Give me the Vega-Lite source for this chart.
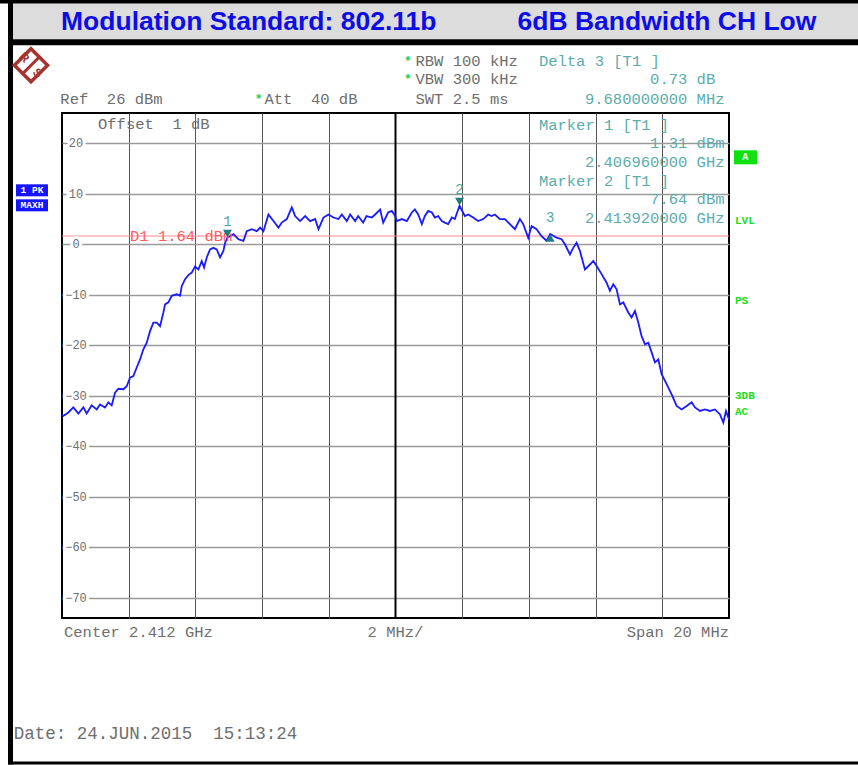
{
  "$schema": "https://vega.github.io/schema/vega-lite/v6.json",
  "width": 667,
  "height": 505,
  "autosize": {"type": "none"},
  "padding": {"left": 62, "top": 113, "right": 129, "bottom": 147},
  "background": "#ffffff",
  "config": {"view": {"stroke": "#000000", "strokeWidth": 2}},
  "datasets": {
    "trace": [
      {"f": 2402.0, "db": -33.8}, {"f": 2402.04, "db": -34.0}, {"f": 2402.19, "db": -33.3}, {"f": 2402.34, "db": -32.3},
      {"f": 2402.49, "db": -33.5}, {"f": 2402.64, "db": -32.3}, {"f": 2402.74, "db": -33.5}, {"f": 2402.89, "db": -31.9},
      {"f": 2403.04, "db": -32.7}, {"f": 2403.14, "db": -31.7}, {"f": 2403.29, "db": -32.3}, {"f": 2403.39, "db": -31.3},
      {"f": 2403.49, "db": -31.9}, {"f": 2403.59, "db": -29.4}, {"f": 2403.69, "db": -28.6}, {"f": 2403.84, "db": -28.7},
      {"f": 2403.94, "db": -28.1}, {"f": 2404.04, "db": -26.4}, {"f": 2404.14, "db": -26.1}, {"f": 2404.24, "db": -24.4},
      {"f": 2404.34, "db": -22.8}, {"f": 2404.44, "db": -20.8}, {"f": 2404.54, "db": -19.5}, {"f": 2404.64, "db": -17.2},
      {"f": 2404.74, "db": -15.5}, {"f": 2404.84, "db": -15.5}, {"f": 2404.94, "db": -16.2}, {"f": 2405.04, "db": -13.5},
      {"f": 2405.09, "db": -11.9}, {"f": 2405.19, "db": -11.5}, {"f": 2405.29, "db": -10.2}, {"f": 2405.44, "db": -9.9},
      {"f": 2405.54, "db": -10.2}, {"f": 2405.59, "db": -8.3}, {"f": 2405.69, "db": -6.9}, {"f": 2405.79, "db": -6.1},
      {"f": 2405.89, "db": -5.6}, {"f": 2405.99, "db": -4.4}, {"f": 2406.09, "db": -5.0}, {"f": 2406.19, "db": -3.3},
      {"f": 2406.26, "db": -4.6}, {"f": 2406.34, "db": -2.6}, {"f": 2406.44, "db": -1.0}, {"f": 2406.54, "db": -0.7},
      {"f": 2406.64, "db": -1.0}, {"f": 2406.74, "db": -2.6}, {"f": 2406.84, "db": -1.3}, {"f": 2406.89, "db": 0.3},
      {"f": 2406.96, "db": 1.31}, {"f": 2407.14, "db": 2.0}, {"f": 2407.29, "db": 1.0}, {"f": 2407.44, "db": 0.7},
      {"f": 2407.54, "db": 2.6}, {"f": 2407.69, "db": 3.0}, {"f": 2407.84, "db": 2.6}, {"f": 2407.94, "db": 3.3},
      {"f": 2408.04, "db": 2.6}, {"f": 2408.19, "db": 5.9}, {"f": 2408.34, "db": 4.6}, {"f": 2408.49, "db": 3.3},
      {"f": 2408.59, "db": 4.3}, {"f": 2408.74, "db": 5.0}, {"f": 2408.89, "db": 7.3}, {"f": 2408.99, "db": 5.6},
      {"f": 2409.14, "db": 4.6}, {"f": 2409.29, "db": 5.6}, {"f": 2409.44, "db": 4.6}, {"f": 2409.59, "db": 5.0},
      {"f": 2409.69, "db": 3.0}, {"f": 2409.84, "db": 5.3}, {"f": 2409.99, "db": 5.9}, {"f": 2410.14, "db": 5.3},
      {"f": 2410.29, "db": 5.0}, {"f": 2410.39, "db": 5.9}, {"f": 2410.54, "db": 4.6}, {"f": 2410.64, "db": 5.9},
      {"f": 2410.79, "db": 4.6}, {"f": 2410.88, "db": 5.6}, {"f": 2411.03, "db": 4.3}, {"f": 2411.13, "db": 5.6},
      {"f": 2411.29, "db": 5.3}, {"f": 2411.39, "db": 5.9}, {"f": 2411.54, "db": 6.9}, {"f": 2411.63, "db": 4.3},
      {"f": 2411.78, "db": 6.3}, {"f": 2411.89, "db": 6.6}, {"f": 2411.99, "db": 5.6}, {"f": 2412.04, "db": 4.6},
      {"f": 2412.19, "db": 5.0}, {"f": 2412.34, "db": 4.6}, {"f": 2412.49, "db": 6.3}, {"f": 2412.58, "db": 6.9},
      {"f": 2412.68, "db": 5.9}, {"f": 2412.79, "db": 4.0}, {"f": 2412.88, "db": 5.6}, {"f": 2412.98, "db": 6.6},
      {"f": 2413.09, "db": 6.3}, {"f": 2413.18, "db": 5.3}, {"f": 2413.28, "db": 5.6}, {"f": 2413.39, "db": 4.6},
      {"f": 2413.48, "db": 4.3}, {"f": 2413.58, "db": 4.0}, {"f": 2413.69, "db": 5.3}, {"f": 2413.78, "db": 5.0},
      {"f": 2413.92, "db": 7.64}, {"f": 2414.08, "db": 5.6}, {"f": 2414.18, "db": 5.9}, {"f": 2414.33, "db": 5.3},
      {"f": 2414.48, "db": 4.6}, {"f": 2414.63, "db": 5.0}, {"f": 2414.78, "db": 5.9}, {"f": 2414.88, "db": 5.6},
      {"f": 2414.98, "db": 5.9}, {"f": 2415.13, "db": 5.0}, {"f": 2415.28, "db": 5.0}, {"f": 2415.43, "db": 4.0},
      {"f": 2415.58, "db": 3.0}, {"f": 2415.73, "db": 5.0}, {"f": 2415.83, "db": 4.0}, {"f": 2415.98, "db": 1.3},
      {"f": 2416.08, "db": 3.6}, {"f": 2416.23, "db": 3.0}, {"f": 2416.38, "db": 1.6}, {"f": 2416.53, "db": 0.7},
      {"f": 2416.64, "db": 2.04}, {"f": 2416.83, "db": 1.3}, {"f": 2416.98, "db": 1.0}, {"f": 2417.08, "db": 0.0},
      {"f": 2417.23, "db": -2.0}, {"f": 2417.33, "db": -0.7}, {"f": 2417.43, "db": 0.3}, {"f": 2417.53, "db": -1.3},
      {"f": 2417.68, "db": -5.0}, {"f": 2417.83, "db": -4.0}, {"f": 2417.93, "db": -3.3}, {"f": 2418.03, "db": -4.3},
      {"f": 2418.18, "db": -5.9}, {"f": 2418.33, "db": -7.6}, {"f": 2418.43, "db": -9.2}, {"f": 2418.53, "db": -7.9},
      {"f": 2418.63, "db": -8.9}, {"f": 2418.73, "db": -11.9}, {"f": 2418.83, "db": -11.5}, {"f": 2418.98, "db": -13.5},
      {"f": 2419.08, "db": -14.5}, {"f": 2419.18, "db": -13.2}, {"f": 2419.28, "db": -15.5}, {"f": 2419.38, "db": -18.2},
      {"f": 2419.48, "db": -19.8}, {"f": 2419.58, "db": -19.5}, {"f": 2419.68, "db": -21.4}, {"f": 2419.78, "db": -23.4},
      {"f": 2419.88, "db": -22.8}, {"f": 2419.98, "db": -25.7}, {"f": 2420.13, "db": -27.7}, {"f": 2420.28, "db": -29.7},
      {"f": 2420.43, "db": -32.0}, {"f": 2420.58, "db": -32.7}, {"f": 2420.73, "db": -32.0}, {"f": 2420.88, "db": -31.3},
      {"f": 2420.98, "db": -32.3}, {"f": 2421.13, "db": -33.0}, {"f": 2421.28, "db": -32.7}, {"f": 2421.43, "db": -33.0},
      {"f": 2421.58, "db": -32.7}, {"f": 2421.73, "db": -33.7}, {"f": 2421.83, "db": -35.3}, {"f": 2421.91, "db": -33.0},
      {"f": 2422.0, "db": -34.7}
    ],
    "markers": [
      {"name": "1", "f": 2406.96, "db": 1.31, "kind": "down"},
      {"name": "2", "f": 2413.92, "db": 7.64, "kind": "down"},
      {"name": "3", "f": 2416.64, "db": 2.04, "kind": "up"}
    ],
    "ylabels": [
      {"db": 20}, {"db": 10}, {"db": 0}, {"db": -10}, {"db": -20},
      {"db": -30}, {"db": -40}, {"db": -50}, {"db": -60}, {"db": -70}
    ],
    "blackbars": [
      {"f": 2400.141, "f2": 2425.9, "db": 48.6, "db2": 47.7},
      {"f": 2400.381, "f2": 2425.9, "db": 40.6, "db2": 39.4},
      {"f": 2400.381, "f2": 2400.531, "db": 48.6, "db2": -103.0},
      {"f": 2400.381, "f2": 2425.9, "db": -102.4, "db2": -103.0}
    ],
    "graybar": [
      {"f": 2400.531, "f2": 2425.9, "db": 47.7, "db2": 40.6}
    ],
    "titles": [
      {"t": "Modulation Standard: 802.11b", "f": 2407.6, "db": 43.96},
      {"t": "6dB Bandwidth CH Low", "f": 2420.14, "db": 43.96}
    ],
    "grayleft": [
      {"t": "Ref \u00a026 dBm", "f": 2401.95, "db": 28.85},
      {"t": "Att \u00a040 dB", "f": 2408.07, "db": 28.85},
      {"t": "RBW 100 kHz", "f": 2412.6, "db": 36.3},
      {"t": "VBW 300 kHz", "f": 2412.6, "db": 32.67},
      {"t": "SWT 2.5 ms", "f": 2412.6, "db": 28.85},
      {"t": "Offset \u00a01 dB", "f": 2403.08, "db": 23.9},
      {"t": "Center 2.412 GHz", "f": 2402.06, "db": -76.83}
    ],
    "graymid": [
      {"t": "2 MHz/", "f": 2412.0, "db": -76.83}
    ],
    "grayright": [
      {"t": "Span 20 MHz", "f": 2422.0, "db": -76.83}
    ],
    "datetext": [
      {"t": "Date: 24.JUN.2015 \u00a015:13:24", "f": 2400.55, "db": -96.97}
    ],
    "stars": [
      {"t": "*", "f": 2412.375, "db": 36.3},
      {"t": "*", "f": 2412.375, "db": 32.67},
      {"t": "*", "f": 2407.9, "db": 28.85}
    ],
    "tealleft": [
      {"t": "Delta 3 [T1 ]", "f": 2416.3, "db": 36.3},
      {"t": "Marker 1 [T1 ]", "f": 2416.3, "db": 23.56},
      {"t": "Marker 2 [T1 ]", "f": 2416.3, "db": 12.53}
    ],
    "tealright": [
      {"t": "0.73 dB", "f": 2421.587, "db": 32.67},
      {"t": "9.680000000 MHz", "f": 2421.865, "db": 28.85},
      {"t": "1.31 dBm", "f": 2421.865, "db": 20.0},
      {"t": "2.406960000 GHz", "f": 2421.865, "db": 16.3},
      {"t": "7.64 dBm", "f": 2421.865, "db": 8.91},
      {"t": "2.413920000 GHz", "f": 2421.865, "db": 5.15}
    ],
    "greenlabels": [
      {"t": "LVL", "f": 2422.18, "db": 4.55},
      {"t": "PS", "f": 2422.18, "db": -11.29},
      {"t": "3DB", "f": 2422.18, "db": -30.1},
      {"t": "AC", "f": 2422.18, "db": -33.27}
    ],
    "greenbox": [
      {"t": "A", "f": 2422.15, "f2": 2422.84, "db": 18.61, "db2": 15.84, "fc": 2422.49, "dc": 17.23}
    ],
    "bluebox": [
      {"t": "1 PK", "f": 2400.621, "f2": 2401.58, "db": 11.88, "db2": 9.5, "fc": 2401.1, "dc": 10.69},
      {"t": "MAXH", "f": 2400.621, "f2": 2401.58, "db": 8.91, "db2": 6.53, "fc": 2401.1, "dc": 7.72}
    ],
    "logo": [
      {"f": 2401.07, "db": 35.45}
    ],
    "logoletters": [
      {"t": "R", "f": 2400.87, "db": 37.0},
      {"t": "S", "f": 2401.27, "db": 33.9}
    ],
    "logoslash": [
      {"f": 2401.34, "db": 37.23, "f2": 2400.80, "db2": 33.66}
    ]
  },
  "layer": [
    {
      "data": {"name": "graybar"},
      "mark": {"type": "rect", "color": "#dcdcdc"},
      "encoding": {
        "x": {"field": "f", "type": "quantitative"}, "x2": {"field": "f2"},
        "y": {"field": "db", "type": "quantitative"}, "y2": {"field": "db2"}
      }
    },
    {
      "data": {"name": "blackbars"},
      "mark": {"type": "rect", "color": "#000000"},
      "encoding": {
        "x": {"field": "f", "type": "quantitative"}, "x2": {"field": "f2"},
        "y": {"field": "db", "type": "quantitative"}, "y2": {"field": "db2"}
      }
    },
    {
      "data": {"name": "trace"},
      "mark": {"type": "line", "color": "#1a1aff", "strokeWidth": 1.6, "opacity": 0},
      "encoding": {
        "x": {"field": "f", "type": "quantitative",
          "scale": {"domain": [2402, 2422], "nice": false, "zero": false},
          "axis": {"values": [2404, 2406, 2408, 2410, 2414, 2416, 2418, 2420], "grid": true, "gridColor": "#555555", "gridWidth": 1, "gridOpacity": 1, "domain": false, "ticks": false, "labels": false, "title": null}},
        "y": {"field": "db", "type": "quantitative",
          "scale": {"domain": [-74, 26], "nice": false, "zero": false},
          "axis": {"values": [20, 10, 0, -10, -20, -30, -40, -50, -60, -70], "grid": true, "gridColor": "#9a9a9a", "gridWidth": 1.6, "gridOpacity": 1, "domain": false, "ticks": false, "labels": false, "title": null}}
      }
    },
    {
      "data": {"values": [{"f": 2412}]},
      "mark": {"type": "rule", "color": "#000000", "strokeWidth": 2},
      "encoding": {"x": {"field": "f", "type": "quantitative"}}
    },
    {
      "data": {"values": [{"db": 1.64}]},
      "mark": {"type": "rule", "color": "#ff8a8a", "strokeWidth": 1.2},
      "encoding": {"y": {"field": "db", "type": "quantitative"}}
    },
    {
      "data": {"name": "ylabels"},
      "mark": {"type": "text", "font": "Liberation Mono", "fontSize": 12, "align": "center", "baseline": "middle", "stroke": "#ffffff", "strokeWidth": 6, "fill": "#ffffff"},
      "encoding": {
        "x": {"datum": 2402.42, "type": "quantitative"},
        "y": {"field": "db", "type": "quantitative"},
        "text": {"field": "db", "type": "quantitative"}
      }
    },
    {
      "data": {"name": "ylabels"},
      "mark": {"type": "text", "font": "Liberation Mono", "fontSize": 12, "align": "center", "baseline": "middle", "color": "#707070"},
      "encoding": {
        "x": {"datum": 2402.42, "type": "quantitative"},
        "y": {"field": "db", "type": "quantitative"},
        "text": {"field": "db", "type": "quantitative"}
      }
    },
    {
      "data": {"name": "trace"},
      "mark": {"type": "line", "color": "#1a1aff", "strokeWidth": 1.8, "interpolate": "linear"},
      "encoding": {
        "x": {"field": "f", "type": "quantitative"},
        "y": {"field": "db", "type": "quantitative"}
      }
    },
    {
      "data": {"values": [{"t": "D1 1.64 dBm", "f": 2404.04, "db": 1.6}]},
      "mark": {"type": "text", "font": "Liberation Mono", "fontSize": 15.5, "align": "left", "baseline": "middle", "color": "#ff5c5c"},
      "encoding": {
        "x": {"field": "f", "type": "quantitative"},
        "y": {"field": "db", "type": "quantitative"},
        "text": {"field": "t"}
      }
    },
    {
      "data": {"name": "markers"},
      "transform": [{"filter": "datum.kind == 'down'"}],
      "mark": {"type": "point", "shape": "triangle-down", "filled": true, "color": "#1e7c7c", "size": 80, "yOffset": -4, "opacity": 1},
      "encoding": {
        "x": {"field": "f", "type": "quantitative"},
        "y": {"field": "db", "type": "quantitative"}
      }
    },
    {
      "data": {"name": "markers"},
      "transform": [{"filter": "datum.kind == 'up'"}],
      "mark": {"type": "point", "shape": "triangle-up", "filled": true, "color": "#1e7c7c", "size": 80, "yOffset": 4, "opacity": 1},
      "encoding": {
        "x": {"field": "f", "type": "quantitative"},
        "y": {"field": "db", "type": "quantitative"}
      }
    },
    {
      "data": {"name": "markers"},
      "mark": {"type": "text", "font": "Liberation Mono", "fontSize": 14, "align": "center", "baseline": "middle", "color": "#4fa9a9", "dy": -16},
      "encoding": {
        "x": {"field": "f", "type": "quantitative"},
        "y": {"field": "db", "type": "quantitative"},
        "text": {"field": "name"}
      }
    },
    {
      "data": {"name": "titles"},
      "mark": {"type": "text", "font": "Liberation Sans", "fontSize": 26.5, "fontWeight": "bold", "align": "center", "baseline": "middle", "color": "#0d0de6"},
      "encoding": {
        "x": {"field": "f", "type": "quantitative"},
        "y": {"field": "db", "type": "quantitative"},
        "text": {"field": "t"}
      }
    },
    {
      "data": {"name": "grayleft"},
      "mark": {"type": "text", "font": "Liberation Mono", "fontSize": 15.5, "align": "left", "baseline": "middle", "color": "#6e6e6e"},
      "encoding": {
        "x": {"field": "f", "type": "quantitative"},
        "y": {"field": "db", "type": "quantitative"},
        "text": {"field": "t"}
      }
    },
    {
      "data": {"name": "graymid"},
      "mark": {"type": "text", "font": "Liberation Mono", "fontSize": 15.5, "align": "center", "baseline": "middle", "color": "#6e6e6e"},
      "encoding": {
        "x": {"field": "f", "type": "quantitative"},
        "y": {"field": "db", "type": "quantitative"},
        "text": {"field": "t"}
      }
    },
    {
      "data": {"name": "grayright"},
      "mark": {"type": "text", "font": "Liberation Mono", "fontSize": 15.5, "align": "right", "baseline": "middle", "color": "#6e6e6e"},
      "encoding": {
        "x": {"field": "f", "type": "quantitative"},
        "y": {"field": "db", "type": "quantitative"},
        "text": {"field": "t"}
      }
    },
    {
      "data": {"name": "datetext"},
      "mark": {"type": "text", "font": "Liberation Mono", "fontSize": 17.5, "align": "left", "baseline": "middle", "color": "#6e6e6e"},
      "encoding": {
        "x": {"field": "f", "type": "quantitative"},
        "y": {"field": "db", "type": "quantitative"},
        "text": {"field": "t"}
      }
    },
    {
      "data": {"name": "stars"},
      "mark": {"type": "text", "font": "Liberation Mono", "fontSize": 13, "fontWeight": "bold", "align": "center", "baseline": "middle", "color": "#1fcf55"},
      "encoding": {
        "x": {"field": "f", "type": "quantitative"},
        "y": {"field": "db", "type": "quantitative"},
        "text": {"field": "t"}
      }
    },
    {
      "data": {"name": "tealleft"},
      "mark": {"type": "text", "font": "Liberation Mono", "fontSize": 15.5, "align": "left", "baseline": "middle", "color": "#5aacac"},
      "encoding": {
        "x": {"field": "f", "type": "quantitative"},
        "y": {"field": "db", "type": "quantitative"},
        "text": {"field": "t"}
      }
    },
    {
      "data": {"name": "tealright"},
      "mark": {"type": "text", "font": "Liberation Mono", "fontSize": 15.5, "align": "right", "baseline": "middle", "color": "#5aacac"},
      "encoding": {
        "x": {"field": "f", "type": "quantitative"},
        "y": {"field": "db", "type": "quantitative"},
        "text": {"field": "t"}
      }
    },
    {
      "data": {"name": "greenlabels"},
      "mark": {"type": "text", "font": "Liberation Mono", "fontSize": 11, "fontWeight": "bold", "align": "left", "baseline": "middle", "color": "#19e019"},
      "encoding": {
        "x": {"field": "f", "type": "quantitative"},
        "y": {"field": "db", "type": "quantitative"},
        "text": {"field": "t"}
      }
    },
    {
      "data": {"name": "greenbox"},
      "mark": {"type": "rect", "color": "#10e010"},
      "encoding": {
        "x": {"field": "f", "type": "quantitative"}, "x2": {"field": "f2"},
        "y": {"field": "db", "type": "quantitative"}, "y2": {"field": "db2"}
      }
    },
    {
      "data": {"name": "greenbox"},
      "mark": {"type": "text", "font": "Liberation Mono", "fontSize": 10, "fontWeight": "bold", "align": "center", "baseline": "middle", "color": "#ffffff"},
      "encoding": {
        "x": {"field": "fc", "type": "quantitative"},
        "y": {"field": "dc", "type": "quantitative"},
        "text": {"field": "t"}
      }
    },
    {
      "data": {"name": "bluebox"},
      "mark": {"type": "rect", "color": "#1515ff"},
      "encoding": {
        "x": {"field": "f", "type": "quantitative"}, "x2": {"field": "f2"},
        "y": {"field": "db", "type": "quantitative"}, "y2": {"field": "db2"}
      }
    },
    {
      "data": {"name": "bluebox"},
      "mark": {"type": "text", "font": "Liberation Mono", "fontSize": 9.5, "fontWeight": "bold", "align": "center", "baseline": "middle", "color": "#ffffff"},
      "encoding": {
        "x": {"field": "fc", "type": "quantitative"},
        "y": {"field": "dc", "type": "quantitative"},
        "text": {"field": "t"}
      }
    },
    {
      "data": {"name": "logo"},
      "mark": {"type": "point", "shape": "diamond", "filled": false, "stroke": "#a8322d", "strokeWidth": 3.5, "size": 1100, "opacity": 1},
      "encoding": {
        "x": {"field": "f", "type": "quantitative"},
        "y": {"field": "db", "type": "quantitative"}
      }
    },
    {
      "data": {"name": "logoslash"},
      "mark": {"type": "rule", "color": "#a8322d", "strokeWidth": 3},
      "encoding": {
        "x": {"field": "f", "type": "quantitative"}, "x2": {"field": "f2"},
        "y": {"field": "db", "type": "quantitative"}, "y2": {"field": "db2"}
      }
    },
    {
      "data": {"name": "logoletters"},
      "mark": {"type": "text", "font": "Liberation Sans", "fontSize": 12, "fontWeight": "bold", "align": "center", "baseline": "middle", "color": "#a8322d", "angle": 45},
      "encoding": {
        "x": {"field": "f", "type": "quantitative"},
        "y": {"field": "db", "type": "quantitative"},
        "text": {"field": "t"}
      }
    }
  ]
}
